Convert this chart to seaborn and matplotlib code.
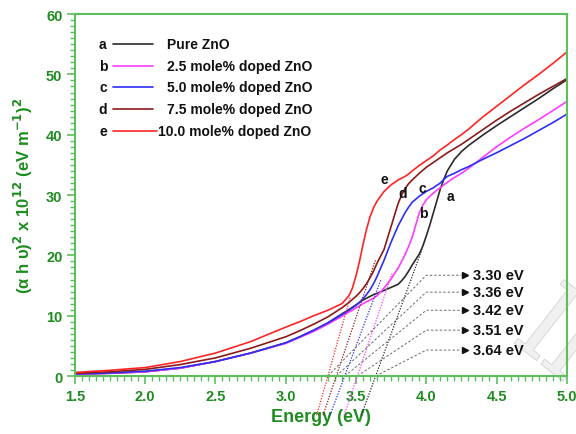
import numpy as np
import pandas as pd
import matplotlib
matplotlib.use("Agg")
import matplotlib.pyplot as plt
import matplotlib.patheffects as pe
import seaborn as sns
from matplotlib.lines import Line2D
from matplotlib.ticker import MultipleLocator, FormatStrFormatter

# Photon energy grid (eV)
energy = [1.5, 1.75, 2.0, 2.25, 2.5, 2.75, 3.0, 3.1, 3.2, 3.3, 3.4,
          3.45, 3.475, 3.5, 3.525, 3.55, 3.575, 3.6, 3.625, 3.65,
          3.7, 3.75, 3.8, 3.825, 3.85, 3.875, 3.9,
          3.95, 3.975, 4.0, 4.025, 4.05, 4.075, 4.1, 4.125, 4.15,
          4.2, 4.25, 4.3, 4.4, 4.5, 4.6, 4.7, 4.8, 4.9, 5.0]

# (alpha h nu)^2 x 10^12 for each sample
pure_zno = [0.3, 0.45, 0.7, 1.3, 2.4, 3.8, 5.5, 6.5, 7.6, 8.8, 10.3,
            11.0, 11.4, 11.8, 12.2, 12.6, 12.9, 13.2, 13.5, 13.7,
            14.2, 14.7, 15.2, 15.8, 16.5, 17.4, 18.4,
            20.2, 21.5, 23.2, 25.0, 27.0, 29.0, 31.0, 32.6, 34.0,
            35.9, 37.2, 38.2, 39.9, 41.5, 43.0, 44.5, 46.0, 47.6, 49.1]
doped_2_5 = [0.3, 0.45, 0.7, 1.3, 2.4, 3.8, 5.4, 6.4, 7.4, 8.6, 9.9,
             10.6, 10.9, 11.3, 11.6, 12.0, 12.3, 12.6, 12.9, 13.3,
             14.6, 16.1, 17.9, 19.0, 20.2, 21.5, 23.0,
             27.0, 28.3, 29.2, 29.8, 30.3, 30.8, 31.2, 31.7, 32.1,
             32.9, 33.6, 34.4, 36.2, 38.0, 39.6, 41.1, 42.5, 44.0, 45.5]
doped_5_0 = [0.35, 0.5, 0.8, 1.4, 2.4, 3.8, 5.5, 6.5, 7.6, 8.8, 10.2,
             10.9, 11.3, 11.7, 12.2, 12.8, 13.5, 14.3, 15.3, 16.5,
             19.2, 22.2, 24.9, 26.0, 27.1, 28.0, 28.8,
             29.8, 30.2, 30.6, 30.9, 31.2, 31.6, 32.0, 32.6, 33.1,
             33.6, 34.2, 34.7, 35.9, 37.0, 38.2, 39.4, 40.7, 42.0, 43.4]
doped_7_5 = [0.45, 0.7, 1.1, 1.9, 3.0, 4.6, 6.5, 7.5, 8.6, 9.8, 11.3,
             12.2, 12.7, 13.2, 13.8, 14.5, 15.3, 16.3, 17.4, 18.7,
             21.0, 24.8, 28.6, 30.0, 31.1, 31.9, 32.5,
             33.6, 34.1, 34.6, 35.0, 35.4, 35.8, 36.2, 36.6, 37.0,
             37.7, 38.4, 39.2, 40.8, 42.4, 43.9, 45.3, 46.7, 48.0, 49.3]
doped_10_0 = [0.6, 0.95, 1.4, 2.4, 3.8, 5.7, 8.1, 9.0, 10.0, 10.9, 12.0,
              13.3, 14.6, 16.6, 19.0, 21.8, 24.3, 26.4, 27.9, 29.0,
              30.6, 31.7, 32.5, 32.8, 33.1, 33.5, 34.0,
              34.9, 35.3, 35.7, 36.1, 36.5, 37.0, 37.5, 37.9, 38.3,
              39.2, 40.0, 40.9, 42.9, 44.7, 46.5, 48.3, 50.0, 51.8, 53.7]

series_names = ["Pure ZnO", "2.5 mole% doped ZnO", "5.0 mole% doped ZnO",
                "7.5 mole% doped ZnO", "10.0 mole% doped ZnO"]
series_tags = ["a", "b", "c", "d", "e"]
series_colors = ["#2b2b2b", "#ff3cff", "#2e2ef5", "#8b1a1a", "#ff2424"]
series_values = [pure_zno, doped_2_5, doped_5_0, doped_7_5, doped_10_0]

# Tauc extrapolation: band gap (x-intercept) and slope of the linear fit
band_gaps = [3.64, 3.51, 3.42, 3.36, 3.30]
fit_slopes = [63.6, 69.0, 62.0, 69.0, 82.0]
fit_top = [21.0, 17.2, 16.0, 19.3, 13.2]
fit_bottom = -6.5

# Curve tag positions
tag_x = [4.17, 3.98, 3.97, 3.83, 3.70]
tag_y = [29.8, 27.1, 31.1, 30.4, 32.7]

# Band-gap callouts, listed top to bottom
gap_labels = ["3.30 eV", "3.36 eV", "3.42 eV", "3.51 eV", "3.64 eV"]
gap_label_values = [3.30, 3.36, 3.42, 3.51, 3.64]
gap_label_y = [16.7, 13.9, 10.9, 7.6, 4.3]

sns.set_theme(style="white")
plt.rcParams["font.family"] = ["Liberation Sans", "DejaVu Sans"]
plt.rcParams["font.weight"] = "bold"
plt.rcParams["mathtext.default"] = "bf"

green_dark = "#1e8c1e"
green_spine = "#5cbf5c"

df = pd.DataFrame({
    "energy": np.tile(energy, len(series_names)),
    "value": np.concatenate(series_values),
    "sample": np.repeat(series_names, len(energy)),
})

fig = plt.figure(figsize=(5.76, 4.35), dpi=100)
ax = fig.add_axes([0.130, 0.1333, 0.854, 0.832])

# Faint publisher stamp in the lower right corner, kept under the data
stamp = ax.text(0.967, 0.219, "ll", transform=fig.transFigure, fontsize=76,
                family="DejaVu Serif", fontweight="normal", color="#f0f0f0",
                rotation=-38, ha="center", va="center", zorder=0.5,
                clip_on=False)
stamp.set_path_effects([pe.withStroke(linewidth=1.0, foreground="#cccccc")])

sns.lineplot(data=df, x="energy", y="value", hue="sample",
             hue_order=series_names, palette=series_colors,
             linewidth=1.2, legend=False, ax=ax, sort=False)

# Dotted linear extrapolations down through the energy axis
for e0, s, top, col in zip(band_gaps, fit_slopes, fit_top, series_colors):
    xs = [e0 + fit_bottom / s, e0 + top / s]
    ys = [fit_bottom, top]
    ax.plot(xs, ys, linestyle=(0, (1, 1.2)), color=col, linewidth=0.9,
            clip_on=False)

# Dashed leader lines to the band-gap values
for lab, e0, yl in zip(gap_labels, gap_label_values, gap_label_y):
    ax.plot([e0, 4.0, 4.25], [0, yl, yl], linestyle=(0, (2.5, 2)),
            color="#6a6a6a", linewidth=0.7)
    ax.plot([4.275], [yl], marker=">", markersize=5, color="#111111",
            linestyle="none")
    ax.text(4.335, yl, lab, fontsize=10.5, fontweight="bold", color="#111111",
            ha="left", va="center")

for t, x, y in zip(series_tags, tag_x, tag_y):
    ax.text(x, y, t, fontsize=10, fontweight="bold", color="#111111",
            ha="center", va="center")

# Legend block: tag, line key, description
row_y = [0.917, 0.856, 0.798, 0.738, 0.677]
key_end = [0.159, 0.159, 0.159, 0.159, 0.167]
text_x = [0.187, 0.187, 0.187, 0.187, 0.169]
for t, name, col, yy, ke, tx in zip(series_tags, series_names, series_colors,
                                    row_y, key_end, text_x):
    ax.text(0.057, yy, t, transform=ax.transAxes, fontsize=10,
            fontweight="bold", color="#111111", ha="center", va="center")
    ax.add_line(Line2D([0.078, ke], [yy, yy], transform=ax.transAxes,
                       color=col, linewidth=1.2))
    ax.text(tx, yy, name, transform=ax.transAxes, fontsize=10,
            fontweight="bold", color="#111111", ha="left", va="center")

ax.set_xlim(1.5, 5.0)
ax.set_ylim(0, 60)
ax.xaxis.set_major_locator(MultipleLocator(0.5))
ax.xaxis.set_minor_locator(MultipleLocator(0.05))
ax.yaxis.set_major_locator(MultipleLocator(10))
ax.yaxis.set_minor_locator(MultipleLocator(1))
ax.tick_params(axis="both", which="both", direction="out", colors=green_spine,
               labelcolor=green_dark, labelsize=10.5, top=False, right=False,
               bottom=True, left=True)
ax.tick_params(which="major", length=6, width=1.2, pad=3)
ax.tick_params(which="minor", length=3.5, width=1.0)
ax.xaxis.set_major_formatter(FormatStrFormatter("%.1f"))
ax.yaxis.set_major_formatter(FormatStrFormatter("%d"))
for lbl in ax.get_xticklabels() + ax.get_yticklabels():
    lbl.set_fontweight("bold")

for sp in ax.spines.values():
    sp.set_color(green_spine)
    sp.set_linewidth(1.5)
    sp.set_zorder(3)

ax.set_xlabel("Energy (eV)", fontsize=13, fontweight="bold", color=green_dark,
              labelpad=4)
ax.set_ylabel(r"(α h υ)$^2$ x 10$^{12}$ (eV m$^{-1}$)$^2$", fontsize=12,
              fontweight="bold", color=green_dark, labelpad=8)

fig.savefig("out.png", dpi=100)
